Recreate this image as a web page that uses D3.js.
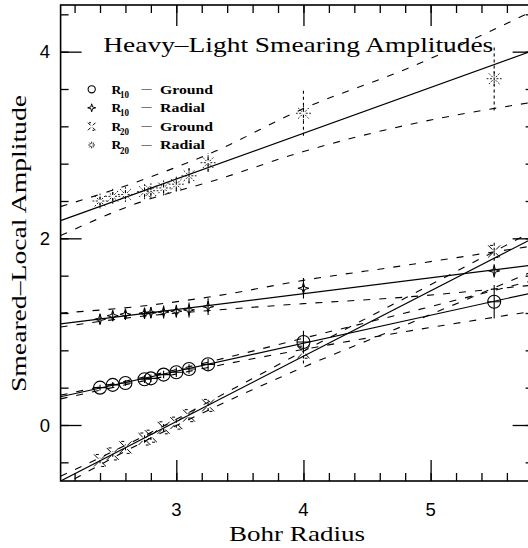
<!DOCTYPE html>
<html>
<head>
<meta charset="utf-8">
<script src="https://cdn.jsdelivr.net/npm/d3@7"></script>
<style>
html,body{margin:0;padding:0;background:#fff;}
svg{display:block;}
</style>
</head>
<body>
<svg id="chart" width="528" height="548"></svg>
<script>
// ---------------- data ----------------
const bohrRadius = [2.4, 2.5, 2.6, 2.75, 2.8, 2.9, 3.0, 3.1, 3.25, 4.0, 5.5];

const r10Ground    = [0.40, 0.43, 0.45, 0.49, 0.50, 0.54, 0.565, 0.60, 0.65, 0.89, 1.32];
const r10GroundErr = [0.03, 0.03, 0.03, 0.04, 0.04, 0.04, 0.05, 0.05, 0.06, 0.12, 0.18];
const r10Radial    = [1.133, 1.171, 1.186, 1.197, 1.204, 1.211, 1.219, 1.233, 1.268, 1.465, 1.651];
const r10RadialErr = [0.05, 0.05, 0.05, 0.06, 0.06, 0.07, 0.07, 0.08, 0.09, 0.11, 0.07];
const r20Ground    = [-0.38, -0.31, -0.24, -0.15, -0.12, -0.03, 0.02, 0.10, 0.21, 0.78, 1.86];
const r20GroundErr = [0.03, 0.03, 0.03, 0.04, 0.04, 0.04, 0.05, 0.05, 0.06, 0.12, 0.10];
const r20Radial    = [2.40, 2.45, 2.47, 2.50, 2.51, 2.54, 2.58, 2.67, 2.81, 3.34, 3.71];
const r20RadialErr = [0.05, 0.05, 0.05, 0.06, 0.06, 0.06, 0.07, 0.08, 0.10, 0.24, 0.34];

// fitted lines (end points)
const fitX         = [2.09, 5.81];
const r10GroundFit = [0.303, 1.419];
const r10RadialFit = [1.083, 1.715];
const r20GroundFit = [-0.60, 2.004];
const r20RadialFit = [2.19, 4.013];

// dashed error bands
const bandX          = [2.09, 2.7, 3.3, 4.0, 4.8, 5.81];
const r10GroundUpper = [0.32, 0.50, 0.69, 0.93, 1.20, 1.55];
const r10GroundLower = [0.28, 0.46, 0.63, 0.81, 1.00, 1.22];
const r10RadialUpper = [1.20, 1.27, 1.38, 1.55, 1.71, 1.92];
const r10RadialLower = [1.05, 1.16, 1.23, 1.30, 1.37, 1.50];
const r20GroundUpper = [-0.55, -0.15, 0.28, 0.79, 1.36, 2.08];
const r20GroundLower = [-0.66, -0.21, 0.19, 0.62, 1.07, 1.65];
const r20RadialUpper = [2.34, 2.61, 2.93, 3.39, 3.81, 4.44];
const r20RadialLower = [2.03, 2.38, 2.62, 2.93, 3.21, 3.46];

const xDomain = [2.09, 5.81];
const yDomain = [-0.6, 4.5];
const xMajor = [3, 4, 5];
const xMinor = d3.range(22, 59, 2).map(v => v / 10);
const yMajor = [0, 2, 4];
const yMinor = d3.range(-1, 12).map(v => v * 0.4);

const title = "Heavy\u2013Light Smearing Amplitudes";
const xTitle = "Bohr Radius";
const yTitle = "Smeared\u2013Local Amplitude";
const legendSub = ["10", "10", "20", "20"];
const legendWord = ["Ground", "Radial", "Ground", "Radial"];

// ---------------- layout ----------------
const L = 60.6, R = 533.6, T = 5, B = 481;
const x = d3.scaleLinear().domain(xDomain).range([L, R]);
const y = d3.scaleLinear().domain(yDomain).range([B, T]);

const svg = d3.select("#chart");
svg.append("defs").append("clipPath").attr("id", "clip")
  .append("rect").attr("x", L).attr("y", T).attr("width", R - L).attr("height", B - T);

const plot = svg.append("g").attr("clip-path", "url(#clip)");

// axes (ticks on all 4 sides, inward)
function tickAxis(axisFn, scale, vals, size, transform) {
  const g = svg.append("g").attr("transform", transform)
    .call(axisFn(scale).tickValues(vals).tickSize(size).tickFormat(""));
  g.select(".domain").remove();
  g.selectAll("line").attr("stroke", "#000").attr("stroke-width", 1.3);
  return g;
}
tickAxis(d3.axisBottom, x, xMajor, -21, `translate(0,${B})`);
tickAxis(d3.axisBottom, x, xMinor, -8, `translate(0,${B})`);
tickAxis(d3.axisTop, x, xMajor, -21, `translate(0,${T})`);
tickAxis(d3.axisTop, x, xMinor, -8, `translate(0,${T})`);
tickAxis(d3.axisLeft, y, yMajor, -21, `translate(${L},0)`);
tickAxis(d3.axisLeft, y, yMinor, -8, `translate(${L},0)`);
tickAxis(d3.axisRight, y, yMajor, -21, `translate(${R},0)`);
tickAxis(d3.axisRight, y, yMinor, -8, `translate(${R},0)`);

svg.append("rect").attr("x", L).attr("y", T).attr("width", R - L).attr("height", B - T)
  .attr("fill", "none").attr("stroke", "#000").attr("stroke-width", 1.6);

// tick labels
svg.append("g").selectAll("text").data(xMajor).join("text")
  .attr("x", d => x(d)).attr("y", 515.5).attr("text-anchor", "middle")
  .attr("font-family", "Liberation Sans, Arial, sans-serif").attr("font-size", 18.5)
  .text(d => d);
svg.append("g").selectAll("text").data(yMajor).join("text")
  .attr("x", 50).attr("y", d => y(d) + 6.8).attr("text-anchor", "end")
  .attr("font-family", "Liberation Sans, Arial, sans-serif").attr("font-size", 18.5)
  .text(d => d);

// axis titles
const serif = "Liberation Serif, Times New Roman, serif";
svg.append("text").attr("x", 229).attr("y", 541)
  .attr("font-family", serif).attr("font-size", 22)
  .attr("textLength", 136).attr("lengthAdjust", "spacingAndGlyphs").text(xTitle);
svg.append("text").attr("transform", "translate(26,392) rotate(-90)")
  .attr("font-family", serif).attr("font-size", 22)
  .attr("textLength", 297).attr("lengthAdjust", "spacingAndGlyphs").text(yTitle);
svg.append("text").attr("x", 103.3).attr("y", 51.7)
  .attr("font-family", serif).attr("font-size", 22)
  .attr("textLength", 390).attr("lengthAdjust", "spacingAndGlyphs").text(title);

// ---------------- lines ----------------
const line = d3.line().x(d => x(d[0])).y(d => y(d[1]));
const smooth = d3.line().x(d => x(d[0])).y(d => y(d[1])).curve(d3.curveMonotoneX);

[r10GroundFit, r10RadialFit, r20GroundFit, r20RadialFit].forEach(f => {
  plot.append("path").attr("d", line(fitX.map((v, i) => [v, f[i]])))
    .attr("fill", "none").attr("stroke", "#000").attr("stroke-width", 1.2);
});
[r10GroundUpper, r10GroundLower, r10RadialUpper, r10RadialLower,
 r20GroundUpper, r20GroundLower, r20RadialUpper, r20RadialLower].forEach(b => {
  plot.append("path").attr("d", smooth(bandX.map((v, i) => [v, b[i]])))
    .attr("fill", "none").attr("stroke", "#000").attr("stroke-width", 1.1)
    .attr("stroke-dasharray", "7,9");
});

// ---------------- symbols ----------------
function sym(g, type, cx, cy, s) {
  const p = d3.path();
  if (type === "circle") {
    p.moveTo(cx + s, cy); p.arc(cx, cy, s, 0, 2 * Math.PI);
    g.append("path").attr("d", p.toString()).attr("fill", "none").attr("stroke", "#000").attr("stroke-width", 1.1);
  } else if (type === "circlePlus") {
    p.moveTo(cx + s, cy); p.arc(cx, cy, s, 0, 2 * Math.PI);
    p.moveTo(cx - s, cy); p.lineTo(cx + s, cy);
    g.append("path").attr("d", p.toString()).attr("fill", "none").attr("stroke", "#000").attr("stroke-width", 1.1);
  } else if (type === "star4") {
    const k = s * 0.22;
    p.moveTo(cx, cy - s); p.lineTo(cx + k, cy - k); p.lineTo(cx + s, cy); p.lineTo(cx + k, cy + k);
    p.lineTo(cx, cy + s); p.lineTo(cx - k, cy + k); p.lineTo(cx - s, cy); p.lineTo(cx - k, cy - k); p.closePath();
    g.append("path").attr("d", p.toString()).attr("fill", "none").attr("stroke", "#000").attr("stroke-width", 1);
  } else if (type === "xcross") {
    const a = s * 0.3;
    [[1, 1], [1, -1], [-1, 1], [-1, -1]].forEach(([sx, sy]) => {
      p.moveTo(cx + sx * a, cy + sy * a); p.lineTo(cx + sx * s, cy + sy * s);
    });
    p.moveTo(cx - s * 0.7, cy - s); p.lineTo(cx - s * 0.2, cy - s);
    p.moveTo(cx + s * 0.2, cy + s); p.lineTo(cx + s * 0.7, cy + s);
    g.append("path").attr("d", p.toString()).attr("fill", "none").attr("stroke", "#000").attr("stroke-width", 1);
  } else if (type === "star8") {
    for (let i = 0; i < 8; i++) {
      const ang = i * Math.PI / 4;
      p.moveTo(cx + Math.cos(ang) * s * 0.3, cy + Math.sin(ang) * s * 0.3);
      p.lineTo(cx + Math.cos(ang) * s, cy + Math.sin(ang) * s);
    }
    g.append("path").attr("d", p.toString()).attr("fill", "none").attr("stroke", "#000").attr("stroke-width", 0.9)
      .attr("stroke-dasharray", "2,1.5");
  }
}

const series = [
  {vals: r10Ground, err: r10GroundErr, type: "circlePlus", size: 6.5, dash: null},
  {vals: r10Radial, err: r10RadialErr, type: "star4", size: 5.5, dash: null},
  {vals: r20Ground, err: r20GroundErr, type: "xcross", size: 6, dash: "3,2"},
  {vals: r20Radial, err: r20RadialErr, type: "star8", size: 7.5, dash: "3,3"}
];
series.forEach(sr => {
  const g = plot.append("g");
  bohrRadius.forEach((bx, i) => {
    const v = sr.vals[i], e = sr.err[i];
    g.append("line").attr("x1", x(bx)).attr("x2", x(bx))
      .attr("y1", y(v - e)).attr("y2", y(v + e))
      .attr("stroke", "#000").attr("stroke-width", 1.1)
      .attr("stroke-dasharray", sr.dash);
    sym(g, sr.type, x(bx), y(v), sr.size);
  });
});

// ---------------- legend ----------------
const legendTypes = ["circle", "star4", "xcross", "star8"];
const legendSizes = [3.6, 4, 3.8, 4.5];
const legendY = [89.3, 107.8, 126.5, 145];
const lg = svg.append("g");
legendTypes.forEach((t, i) => {
  const cy = legendY[i];
  sym(lg, t, 91.7, cy, legendSizes[i]);
  lg.append("text").attr("x", 111.5).attr("y", cy + 4.2)
    .attr("font-family", serif).attr("font-weight", "bold").attr("font-size", 13.5)
    .text("R");
  lg.append("text").attr("x", 120).attr("y", cy + 8.5)
    .attr("font-family", serif).attr("font-weight", "bold").attr("font-size", 9.5)
    .attr("textLength", 9).attr("lengthAdjust", "spacingAndGlyphs").text(legendSub[i]);
  lg.append("text").attr("x", 141.5).attr("y", cy + 2.5)
    .attr("font-family", serif).attr("font-size", 13)
    .attr("textLength", 10).attr("lengthAdjust", "spacingAndGlyphs").text("\u2013");
  lg.append("text").attr("x", 160).attr("y", cy + 4.2)
    .attr("font-family", serif).attr("font-weight", "bold").attr("font-size", 13.5)
    .attr("textLength", legendWord[i] === "Ground" ? 53 : 45).attr("lengthAdjust", "spacingAndGlyphs")
    .text(legendWord[i]);
});
</script>
</body>
</html>
